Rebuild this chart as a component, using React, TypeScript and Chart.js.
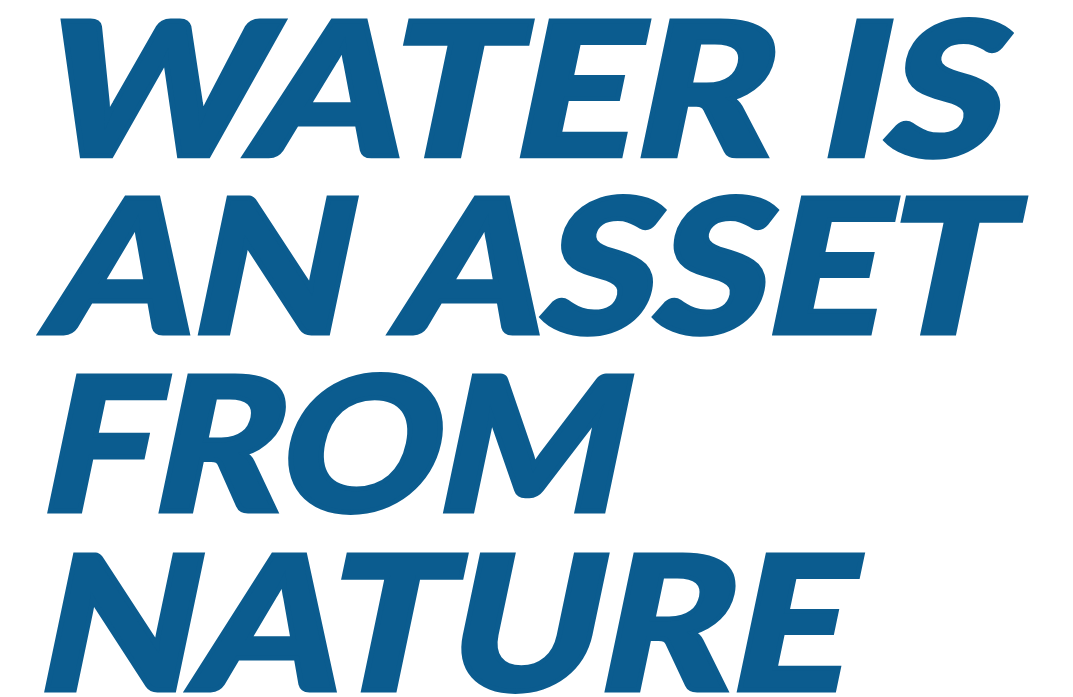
import React, { useEffect, useRef } from "react";
import { Chart, registerables } from "chart.js";

Chart.register(...registerables);

// Content
const LINES: string[] = ["WATER IS", "AN ASSET", "FROM", "NATURE"];
const TEXT_COLOR = "#0b5c8f";

// Layout (pixels)
const BASELINES = [158, 335, 513, 692];
const INK_LEFT = [35, 40, 50, 47];
const INK_RIGHT = [988, 997, 604, 834];
const CAP_HEIGHT = 136;
const SKEW = 0.21;
const STROKE = 5;
const FONT = "900 200px Lato, 'Open Sans', 'DejaVu Sans', sans-serif";

const textPlugin = {
  id: "posterText",
  afterDraw(chart: any) {
    const ctx: CanvasRenderingContext2D = chart.ctx;
    ctx.save();
    ctx.font = FONT;
    ctx.fillStyle = TEXT_COLOR;
    ctx.strokeStyle = TEXT_COLOR;
    ctx.lineJoin = "miter";
    ctx.textBaseline = "alphabetic";
    ctx.textAlign = "left";
    const mH = ctx.measureText("H");
    const sy = CAP_HEIGHT / mH.actualBoundingBoxAscent;
    LINES.forEach((line, i) => {
      const m = ctx.measureText(line);
      const inkW = m.actualBoundingBoxLeft + m.actualBoundingBoxRight;
      const sx = (INK_RIGHT[i] - INK_LEFT[i]) / inkW;
      const bl = BASELINES[i] - STROKE / 2;
      ctx.save();
      ctx.transform(1, 0, -SKEW, 1, SKEW * bl, 0);
      ctx.translate(INK_LEFT[i], bl);
      ctx.scale(sx, sy);
      ctx.lineWidth = STROKE / Math.sqrt(sx * sy);
      ctx.fillText(line, m.actualBoundingBoxLeft, 0);
      ctx.strokeText(line, m.actualBoundingBoxLeft, 0);
      ctx.restore();
    });
    ctx.restore();
  },
};

export default function App() {
  const ref = useRef<HTMLCanvasElement | null>(null);
  useEffect(() => {
    document.body.style.margin = "0";
    document.body.style.background = "#ffffff";
    const chart = new Chart(ref.current as HTMLCanvasElement, {
      type: "scatter",
      data: { datasets: [] },
      options: {
        animation: false,
        responsive: true,
        maintainAspectRatio: false,
        layout: { padding: 0 },
        scales: { x: { display: false }, y: { display: false } },
        plugins: { legend: { display: false }, tooltip: { enabled: false }, title: { display: false } },
      },
      plugins: [textPlugin],
    });
    return () => chart.destroy();
  }, []);
  return (
    <div style={{ position: "absolute", left: 0, top: 0, width: 1073, height: 697, background: "#fff" }}>
      <canvas ref={ref} />
    </div>
  );
}
